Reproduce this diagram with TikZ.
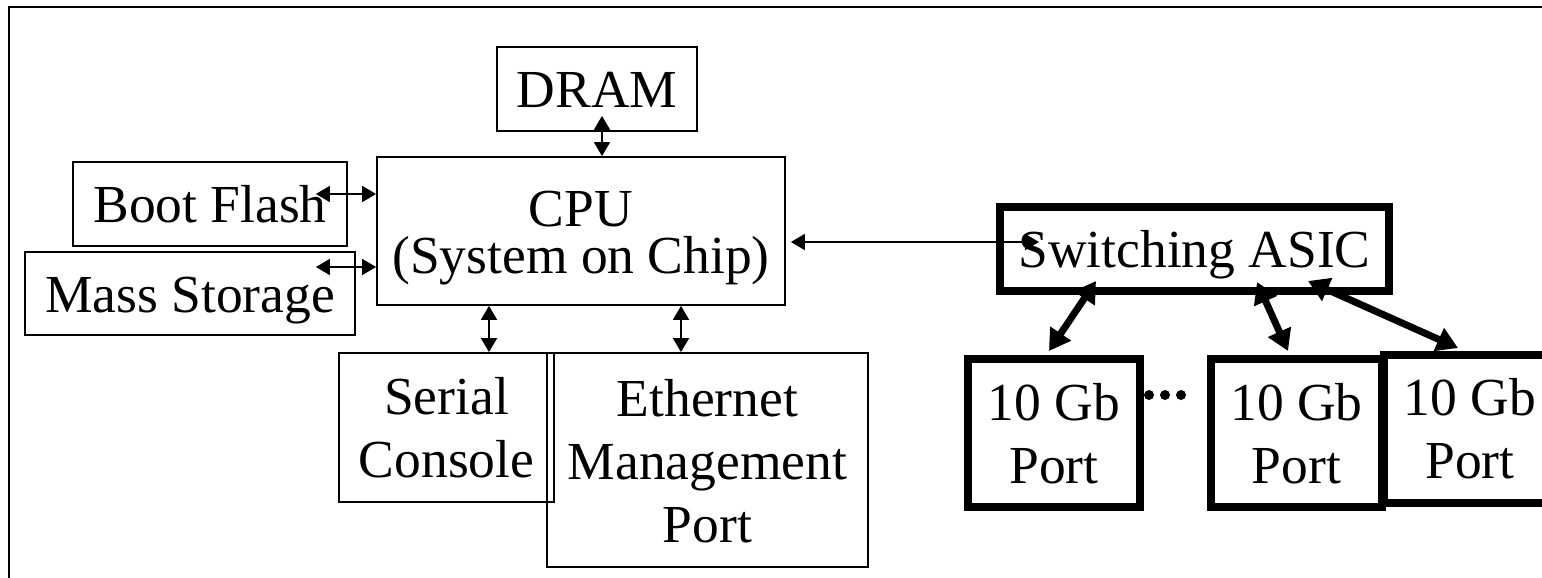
\documentclass[tikz,border=0pt]{standalone}
\usepackage{fontspec}
\setmainfont{Liberation Serif}
\usetikzlibrary{arrows.meta,calc}
\tikzset{
  txt/.style={font=\fontsize{26.75pt}{31.5pt}\selectfont, align=center, text height=18.5pt, text depth=0pt},
  thinbox/.style={draw, line width=0.9pt, inner sep=0pt, txt},
  thickbox/.style={draw, line width=4pt, inner sep=0pt, txt},
  thinarr/.style={line width=0.9pt, {Triangle[length=7pt,width=8pt]}-{Triangle[length=7pt,width=8pt]}},
  thickarr/.style={line width=3.5pt, {Triangle[length=10.5pt,width=12pt]}-{Triangle[length=10.5pt,width=12pt]}},
  frame/.style={draw, line width=1pt}
}
\begin{document}
\begin{tikzpicture}[x=0.5pt,y=-0.5pt]
\useasboundingbox (0,0) rectangle (1542,578);
\clip (0,0) rectangle (1542,578);
\fill[white] (0,0) rectangle (1542,578);
\draw[frame] (9,7) rectangle (1600,640);

% CPU side
\node[thinbox, minimum width=100pt, minimum height=42pt] (dram) at (597,89) {DRAM};
\node[thinbox, minimum width=204pt, minimum height=74pt, text height=42pt,
      font=\fontsize{26.75pt}{23.5pt}\selectfont] (cpu) at (581,231) {CPU\\(System on Chip)};
\node[thinbox, minimum width=137pt, minimum height=42pt] (boot) at (210,204) {Boot Flash};
\node[thinbox, minimum width=165pt, minimum height=41.5pt] (mass) at (190,293.5) {Mass Storage};
\node[thinbox, minimum width=107.5pt, minimum height=74.5pt, text height=50pt] (serial) at (446.5,427.5) {Serial\\Console};
\node[thinbox, minimum width=160.5pt, minimum height=107pt, text height=82pt] (eth) at (707.5,460) {Ethernet\\Management\\Port};

% switching side
\node[thickbox, minimum width=194.5pt, minimum height=42pt] (asic) at (1194.5,249) {Switching ASIC};
\node[thickbox, minimum width=86pt, minimum height=74pt, text height=50pt] (p1) at (1054,433) {10 Gb\\Port};
\node[thickbox, minimum width=85.5pt, minimum height=74pt, text height=50pt] (p2) at (1296.5,433) {10 Gb\\Port};
\node[thickbox, minimum width=86pt, minimum height=74pt, text height=49pt] (p3) at (1470,429) {10 Gb\\Port};

% ellipsis dots
\fill (1149,395) circle[radius=2.5pt];
\fill (1165,395) circle[radius=2.5pt];
\fill (1181,395) circle[radius=2.5pt];

% thin connectors
\coordinate (d1) at ($(dram.south)+(5,-16)$);
\draw[thinarr] (d1) -- (d1 |- cpu.north);
\draw[thinarr] ($(boot.east)+(-32,-10)$) coordinate (b1) -- (b1 -| cpu.west);
\draw[thinarr] ($(mass.east)+(-40,-26.5)$) coordinate (m1) -- (m1 -| cpu.west);
\draw[thinarr] (cpu.south -| 489,0) -- (serial.north -| 489,0);
\draw[thinarr] (cpu.south -| 681,0) -- (eth.north -| 681,0);
\coordinate (aL) at ($(asic.west)+(43,-7)$);
\draw[thinarr] (aL) -- ($(aL -| cpu.east)+(5,0)$);

% thick connectors
\draw[thickarr] ($(asic.south)+(-98.5,-14)$) -- ($(p1.north)+(-5,-4)$);
\draw[thickarr] ($(asic.south)+(62.5,-13)$) -- ($(p2.north)+(-8.5,-4)$);
\draw[thickarr] ($(asic.south)+(113.5,-14)$) -- ($(p3.north)+(-12,-3)$);
\end{tikzpicture}
\end{document}
